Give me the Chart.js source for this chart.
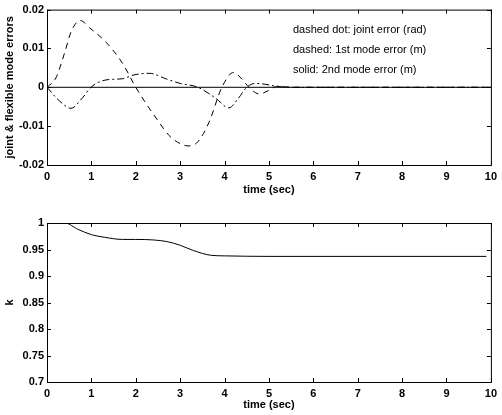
<!DOCTYPE html>
<html>
<head>
<meta charset="utf-8">
<script src="https://cdn.jsdelivr.net/npm/chart.js"></script>
<style>
  html, body { margin: 0; padding: 0; background: #fff; }
  canvas { position: absolute; left: 0; }
  #errChart { top: 0; }
  #kChart { top: 205px; }
</style>
</head>
<body>
<canvas id="errChart" width="502" height="205"></canvas>
<canvas id="kChart" width="502" height="210"></canvas>
<script>
// Values
const timeTicks = [0, 1, 2, 3, 4, 5, 6, 7, 8, 9, 10];

// dashed dot: joint error (rad)
const jointTime = [0, 0.28, 0.54, 0.8, 0.99, 1.33, 1.7, 1.96, 2.3, 2.7, 3.0, 3.4, 3.8, 4.1, 4.3, 4.5, 4.7, 4.9, 5.2, 5.6, 6, 10];
const jointErr  = [0, -0.0035, -0.0054, -0.0027, 0, 0.0019, 0.0022, 0.0032, 0.0036, 0.0021, 0.001, 0, -0.0028, -0.0053, -0.003, 0, 0.001, 0.0008, 0.0002, 0, 0, 0];

// dashed: 1st mode error (m)
const mode1Time = [0, 0.2, 0.4, 0.55, 0.75, 0.95, 1.33, 1.7, 2.0, 2.25, 2.5, 2.75, 3.0, 3.2, 3.4, 3.65, 3.94, 4.2, 4.4, 4.55, 4.78, 5.0, 5.2, 5.5, 6, 10];
const mode1Err  = [0, 0.0024, 0.009, 0.0145, 0.0172, 0.0154, 0.0116, 0.0062, 0, -0.0045, -0.0086, -0.0124, -0.0145, -0.0151, -0.014, -0.009, 0, 0.0038, 0.002, 0, -0.0017, -0.0008, 0.0003, 0, 0, 0];

// solid: 2nd mode error (m)
const mode2Time = [0, 10];
const mode2Err  = [0, 0];

const errTicks = [-0.02, -0.01, 0, 0.01, 0.02];
const legendLines = [
  'dashed dot: joint error (rad)',
  'dashed: 1st mode error (m)',
  'solid: 2nd mode error (m)'
];

// lower plot: k
const kTime   = [0, 0.4, 0.7, 1.0, 1.3, 1.7, 2.0, 2.4, 2.7, 3.0, 3.3, 3.7, 4.0, 5, 9.9];
const kValues = [1, 1, 0.988, 0.978, 0.973, 0.969, 0.969, 0.968, 0.965, 0.958, 0.948, 0.939, 0.938, 0.937, 0.937];
const kTicks  = [0.7, 0.75, 0.8, 0.85, 0.9, 0.95, 1];

const FONT = "'Liberation Sans', Arial, sans-serif";

function points(xs, ys) {
  return xs.map((x, i) => ({ x: x, y: ys[i] }));
}

// box round the plot with inward ticks on all four sides
const boxPlugin = {
  id: 'box',
  afterDraw(chart) {
    const { ctx, chartArea: a, scales } = chart;
    const len = 4;
    ctx.save();
    ctx.strokeStyle = '#000';
    ctx.lineWidth = 1;
    ctx.strokeRect(a.left + 0.5, a.top + 0.5, a.right - a.left, a.bottom - a.top);
    ctx.beginPath();
    scales.x.ticks.forEach(t => {
      const px = Math.round(scales.x.getPixelForValue(t.value)) + 0.5;
      ctx.moveTo(px, a.bottom); ctx.lineTo(px, a.bottom - len);
      ctx.moveTo(px, a.top); ctx.lineTo(px, a.top + len);
    });
    scales.y.ticks.forEach(t => {
      const py = Math.round(scales.y.getPixelForValue(t.value)) + 0.5;
      ctx.moveTo(a.left, py); ctx.lineTo(a.left + len, py);
      ctx.moveTo(a.right, py); ctx.lineTo(a.right - len, py);
    });
    ctx.stroke();
    ctx.restore();
  }
};

const notePlugin = {
  id: 'note',
  afterDraw(chart) {
    const lines = chart.options.plugins.note && chart.options.plugins.note.lines;
    if (!lines) return;
    const ctx = chart.ctx;
    ctx.save();
    ctx.fillStyle = '#000';
    ctx.font = '11px ' + FONT;
    ctx.textBaseline = 'middle';
    lines.forEach((s, i) => ctx.fillText(s, 293, 30 + i * 20));
    ctx.restore();
  }
};

function fmt(v) {
  return String(Number(v.toFixed(3)));
}

function makeScales(yMin, yMax, yStep, yTicks, yTitle, xAxisHeight, xTitlePad) {
  return {
    x: {
      type: 'linear',
      min: 0,
      max: 10,
      afterBuildTicks: s => { s.ticks = timeTicks.map(v => ({ value: v })); },
      afterFit: s => { s.height = xAxisHeight; },
      grid: { display: false, drawTicks: false },
      border: { display: false },
      ticks: {
        padding: 5,
        color: '#000',
        maxRotation: 0,
        font: { family: FONT, size: 11, weight: 'bold' },
        callback: v => fmt(v)
      },
      title: {
        display: true,
        text: 'time (sec)',
        color: '#000',
        padding: { top: 0, bottom: xTitlePad },
        font: { family: FONT, size: 11, weight: 'bold' }
      }
    },
    y: {
      min: yMin,
      max: yMax,
      afterBuildTicks: s => { s.ticks = yTicks.map(v => ({ value: v })); },
      afterFit: s => { s.width = 47; },
      grid: { display: false, drawTicks: false },
      border: { display: false },
      ticks: {
        padding: 3,
        color: '#000',
        font: { family: FONT, size: 11, weight: 'bold' },
        callback: v => fmt(v)
      },
      title: {
        display: true,
        text: yTitle,
        color: '#000',
        padding: { top: 3, bottom: 0 },
        font: { family: FONT, size: 11, weight: 'bold' }
      }
    }
  };
}

function line(data, dash) {
  return {
    data: data,
    borderColor: '#000',
    borderWidth: 1,
    borderDash: dash,
    pointRadius: 0,
    tension: 0.4,
    cubicInterpolationMode: 'monotone',
    fill: false
  };
}

new Chart(document.getElementById('errChart').getContext('2d'), {
  type: 'line',
  data: {
    datasets: [
      line(points(jointTime, jointErr), [7, 3, 2, 3]),
      line(points(mode1Time, mode1Err), [6, 5]),
      line(points(mode2Time, mode2Err), [])
    ]
  },
  options: {
    responsive: false,
    animation: false,
    layout: { padding: { left: 0, top: 7, right: 9, bottom: 0 } },
    scales: makeScales(-0.02, 0.02, 0.01, errTicks, 'joint & flexible mode errors', 40, 8),
    plugins: {
      legend: { display: false },
      tooltip: { enabled: false },
      note: { lines: legendLines }
    }
  },
  plugins: [boxPlugin, notePlugin]
});

new Chart(document.getElementById('kChart').getContext('2d'), {
  type: 'line',
  data: {
    datasets: [
      line(points(kTime, kValues), [])
    ]
  },
  options: {
    responsive: false,
    animation: false,
    layout: { padding: { left: 0, top: 18, right: 11, bottom: 0 } },
    scales: makeScales(0.7, 1, 0.05, kTicks, 'k', 33, 3),
    plugins: {
      legend: { display: false },
      tooltip: { enabled: false }
    }
  },
  plugins: [boxPlugin]
});
</script>
</body>
</html>
